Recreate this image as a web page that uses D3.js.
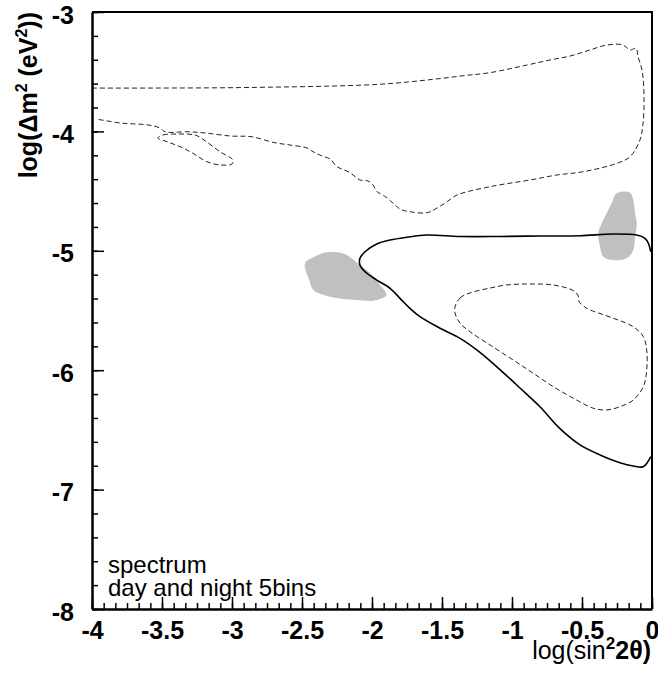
<!DOCTYPE html>
<html>
<head>
<meta charset="utf-8">
<script src="https://cdn.jsdelivr.net/npm/d3@7"></script>
<style>
  body { margin: 0; background: #fff; }
  svg text { font-family: "Liberation Sans", Arial, Helvetica, sans-serif; }
</style>
</head>
<body>
<div id="chart"></div>
<script>
// axis ticks
var xTicks = [-4, -3.5, -3, -2.5, -2, -1.5, -1, -0.5, 0];
var yTicks = [-8, -7, -6, -5, -4, -3];

// upper dashed contour (open, starts and ends at left edge)
var upperDash = [
  [-4.000, -3.637], [-3.586, -3.637], [-2.871, -3.632], [-1.957, -3.606], [-1.564, -3.564],
  [-1.350, -3.534], [-1.157, -3.508], [-0.893, -3.444], [-0.729, -3.402], [-0.586, -3.369],
  [-0.443, -3.318], [-0.321, -3.276], [-0.207, -3.276], [-0.157, -3.318], [-0.114, -3.304],
  [-0.100, -3.374], [-0.071, -3.486], [-0.057, -3.709], [-0.064, -3.932], [-0.086, -4.072],
  [-0.157, -4.212], [-0.250, -4.267], [-0.493, -4.338], [-0.679, -4.365], [-0.871, -4.407],
  [-1.157, -4.463], [-1.393, -4.533], [-1.464, -4.589], [-1.536, -4.642], [-1.607, -4.681],
  [-1.729, -4.673], [-1.800, -4.650], [-1.850, -4.600], [-1.921, -4.533], [-1.964, -4.505],
  [-1.993, -4.449], [-2.029, -4.415], [-2.086, -4.407], [-2.121, -4.379], [-2.157, -4.346],
  [-2.214, -4.315], [-2.250, -4.296], [-2.300, -4.231], [-2.357, -4.206], [-2.421, -4.170],
  [-2.464, -4.139], [-2.586, -4.114], [-2.693, -4.095], [-2.864, -4.044], [-3.007, -4.039],
  [-3.193, -4.013], [-3.314, -4.003], [-3.479, -4.003], [-3.514, -3.972], [-3.600, -3.946],
  [-3.793, -3.930], [-3.971, -3.896]
];

// small dashed island
var islandDash = [
  [-3.529, -4.055], [-3.493, -4.030], [-3.371, -4.022], [-3.264, -4.030], [-3.200, -4.072],
  [-3.086, -4.170], [-2.993, -4.240], [-3.000, -4.273], [-3.086, -4.281], [-3.179, -4.254],
  [-3.279, -4.183], [-3.371, -4.128], [-3.464, -4.086]
];

// lower dashed contour (closed)
var lowerDash = [
  [-1.407, -5.468], [-1.371, -5.395], [-1.300, -5.353], [-1.157, -5.312], [-1.036, -5.286],
  [-0.871, -5.278], [-0.707, -5.286], [-0.571, -5.328], [-0.530, -5.370], [-0.520, -5.430],
  [-0.500, -5.450], [-0.466, -5.482], [-0.276, -5.565], [-0.134, -5.636], [-0.062, -5.719],
  [-0.038, -5.831], [-0.038, -5.998], [-0.062, -6.138], [-0.134, -6.250], [-0.229, -6.306],
  [-0.324, -6.333], [-0.419, -6.319], [-0.538, -6.250], [-0.705, -6.138], [-0.848, -6.026],
  [-0.991, -5.915], [-1.157, -5.789], [-1.300, -5.678], [-1.371, -5.607], [-1.407, -5.523]
];

// solid contour (open, from right edge round and back)
var solidLine = [
  [-0.009, -5.008], [-0.026, -4.937], [-0.050, -4.895], [-0.109, -4.868], [-0.279, -4.859],
  [-0.514, -4.874], [-0.800, -4.876], [-1.086, -4.880], [-1.371, -4.880], [-1.609, -4.868],
  [-1.752, -4.887], [-1.871, -4.910], [-1.966, -4.943], [-2.050, -5.008], [-2.086, -5.063],
  [-2.086, -5.119], [-2.050, -5.175], [-1.966, -5.245], [-1.871, -5.314], [-1.800, -5.398],
  [-1.729, -5.482], [-1.657, -5.552], [-1.514, -5.649], [-1.371, -5.733], [-1.229, -5.850],
  [-1.086, -5.995], [-0.943, -6.149], [-0.800, -6.306], [-0.657, -6.490], [-0.514, -6.626],
  [-0.371, -6.710], [-0.229, -6.775], [-0.134, -6.802], [-0.062, -6.808], [-0.009, -6.724]
];

// gray best-fit areas
var grayLeft = [
  [-2.479, -5.105], [-2.419, -5.054], [-2.324, -5.013], [-2.241, -5.013], [-2.181, -5.035],
  [-2.086, -5.119], [-2.014, -5.188], [-1.943, -5.286], [-1.895, -5.370], [-1.931, -5.398],
  [-1.991, -5.418], [-2.109, -5.412], [-2.300, -5.384], [-2.419, -5.328], [-2.448, -5.245]
];
var grayRight = [
  [-0.252, -4.518], [-0.157, -4.513], [-0.134, -4.575], [-0.121, -4.686], [-0.109, -4.770],
  [-0.121, -4.882], [-0.134, -4.993], [-0.181, -5.063], [-0.276, -5.077], [-0.348, -5.049],
  [-0.371, -4.966], [-0.384, -4.853], [-0.359, -4.770], [-0.324, -4.686], [-0.288, -4.602]
];

var labels = ["spectrum", "day and night 5bins"];

var width = 658, height = 673;
var margin = {top: 12, right: 6, bottom: 64, left: 92};

var svg = d3.select('#chart').append('svg')
  .attr('width', width)
  .attr('height', height);

var x = d3.scaleLinear().domain([-4, 0]).range([margin.left, width - margin.right]);
var y = d3.scaleLinear().domain([-8, -3]).range([height - margin.bottom, margin.top]);

svg.append('clipPath').attr('id', 'clip')
  .append('rect')
  .attr('x', x(-4)).attr('y', y(-3))
  .attr('width', x(0) - x(-4)).attr('height', y(-8) - y(-3));

var plot = svg.append('g').attr('clip-path', 'url(#clip)');

var line = d3.line().x(function(d) { return x(d[0]); }).y(function(d) { return y(d[1]); });

// gray areas
[grayLeft, grayRight].forEach(function(pts) {
  plot.append('path')
    .datum(pts)
    .attr('d', line.curve(d3.curveCatmullRomClosed.alpha(0.5)))
    .attr('fill', '#c0c0c0')
    .attr('stroke', 'none');
});

// dashed contours
plot.append('path').datum(upperDash)
  .attr('d', line.curve(d3.curveCatmullRom.alpha(0.5)))
  .attr('fill', 'none').attr('stroke', '#222').attr('stroke-width', 1)
  .attr('stroke-dasharray', '5,3');
plot.append('path').datum(islandDash)
  .attr('d', line.curve(d3.curveCatmullRomClosed.alpha(0.5)))
  .attr('fill', 'none').attr('stroke', '#222').attr('stroke-width', 1)
  .attr('stroke-dasharray', '5,3');
plot.append('path').datum(lowerDash)
  .attr('d', line.curve(d3.curveCatmullRomClosed.alpha(0.5)))
  .attr('fill', 'none').attr('stroke', '#222').attr('stroke-width', 1)
  .attr('stroke-dasharray', '5,3');

// solid contour
plot.append('path').datum(solidLine)
  .attr('d', line.curve(d3.curveCatmullRom.alpha(0.5)))
  .attr('fill', 'none').attr('stroke', '#000').attr('stroke-width', 1.6);

// frame (top and right)
svg.append('path')
  .attr('d', 'M' + x(-4) + ',' + y(-3) + 'H' + x(0) + 'V' + y(-8))
  .attr('fill', 'none').attr('stroke', '#000').attr('stroke-width', 2);

// minor ticks
var xMinor = d3.range(0, 49).map(function(i) { return -4 + i / 12; });
var yMinor = d3.range(0, 26).map(function(i) { return -8 + i * 0.2; });

svg.append('g')
  .attr('transform', 'translate(0,' + y(-8) + ')')
  .call(d3.axisBottom(x).tickValues(xMinor).tickSize(-6).tickSizeOuter(0).tickFormat(''))
  .call(function(g) { g.select('.domain').remove(); })
  .selectAll('line').attr('stroke-width', 1.5);

svg.append('g')
  .attr('transform', 'translate(' + x(-4) + ',0)')
  .call(d3.axisLeft(y).tickValues(yMinor).tickSize(-6).tickSizeOuter(0).tickFormat(''))
  .call(function(g) { g.select('.domain').remove(); })
  .selectAll('line').attr('stroke-width', 1.5);

// major ticks + labels
var xAxis = svg.append('g')
  .attr('transform', 'translate(0,' + y(-8) + ')')
  .call(d3.axisBottom(x).tickValues(xTicks).tickSize(-12).tickSizeOuter(0).tickPadding(12)
    .tickFormat(function(d) { return String(d); }));
xAxis.select('.domain').attr('stroke-width', 2.5);
xAxis.selectAll('line').attr('stroke-width', 1.5);
xAxis.selectAll('text')
  .attr('fill', '#000')
  .style('font-size', '25px')
  .style('font-weight', 'bold');

var yAxis = svg.append('g')
  .attr('transform', 'translate(' + x(-4) + ',0)')
  .call(d3.axisLeft(y).tickValues(yTicks).tickSize(-12).tickSizeOuter(0).tickPadding(18)
    .tickFormat(function(d) { return String(d); }));
yAxis.select('.domain').attr('stroke-width', 2.5);
yAxis.selectAll('line').attr('stroke-width', 1.5);
yAxis.selectAll('text')
  .attr('fill', '#000')
  .attr('dy', '0.44em')
  .style('font-size', '25px')
  .style('font-weight', 'bold');

// y title
var yt = svg.append('text')
  .attr('transform', 'translate(37,12) rotate(-90)')
  .attr('text-anchor', 'end')
  .style('font-size', '25px')
  .style('font-weight', 'bold');
yt.append('tspan').text('log(\u0394m');
yt.append('tspan').attr('dy', -10).style('font-size', '16px').text('2');
yt.append('tspan').attr('dy', 10).text(' (eV');
yt.append('tspan').attr('dy', -10).style('font-size', '16px').text('2');
yt.append('tspan').attr('dy', 10).text('))');

// x title
var xt = svg.append('text')
  .attr('x', 651).attr('y', 659)
  .attr('text-anchor', 'end')
  .style('font-size', '25px');
xt.append('tspan').text('log(sin');
xt.append('tspan').attr('dy', -10).style('font-size', '17px').style('font-weight', 'bold').text('2');
xt.append('tspan').attr('dy', 10).style('font-weight', 'bold').text('2\u03b8)');

// legend text
svg.selectAll('.note')
  .data(labels)
  .enter().append('text')
  .attr('class', 'note')
  .attr('x', 108)
  .attr('y', function(d, i) { return 573 + i * 23; })
  .style('font-size', '24px')
  .text(function(d) { return d; });
</script>
</body>
</html>
